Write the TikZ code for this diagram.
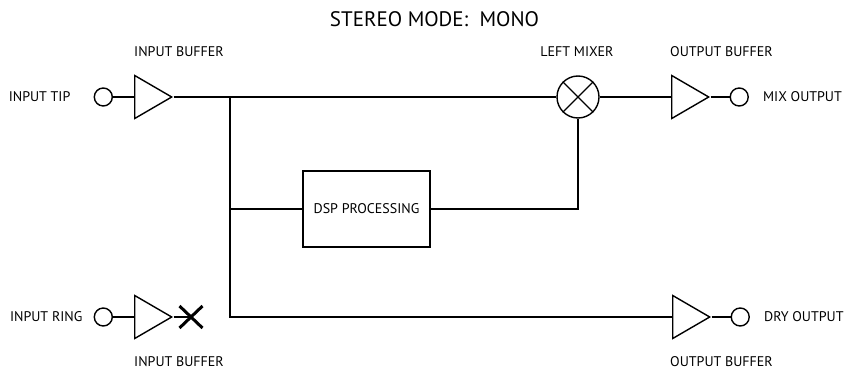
\documentclass[tikz,border=0pt]{standalone}
\usepackage{fontspec}
\setmainfont{PT Sans}
\usepackage{tikz}
\usetikzlibrary{arrows.meta,positioning,shapes.geometric,shapes.misc,calc}
\tikzset{
  wire/.style={line width=1.4pt, draw=black},
  buf/.style={isosceles triangle, isosceles triangle stretches, shape border rotate=0, draw, line width=1.4pt,
              minimum width=43pt, minimum height=37pt, inner sep=0pt, anchor=west},
  jack/.style={circle, draw, line width=1.4pt, minimum size=18pt, inner sep=0pt},
  mixer/.style={circle, draw, line width=1.4pt, minimum size=42pt, inner sep=0pt},
  procbox/.style={rectangle, draw, line width=1.4pt, minimum width=127pt, minimum height=76pt, inner sep=0pt,
                  font=\fontsize{14}{16}\selectfont},
  nocon/.style={cross out, draw, line width=3pt, minimum width=20pt, minimum height=19pt, inner sep=0pt},
  lbl/.style={font=\fontsize{14}{16}\selectfont, inner sep=0pt},
  ttl/.style={font=\fontsize{21}{23}\selectfont, inner sep=0pt}
}
\begin{document}
\begin{tikzpicture}[x=1pt, y=1pt]
 \useasboundingbox (0,0) rectangle (847,373);
 \node[ttl] (title) at (434.5,354) {STEREO MODE:\ \ MONO};
 % top path
 \node[buf] (bufin) at (134,276) {};
 \node[jack, left=21pt of bufin] (jtip) {};
 \node[lbl, left=23pt of jtip] (ltip) {INPUT TIP};
 \node[mixer] (mix) at (578,276) {};
 \draw[wire] (mix.north west) -- (mix.south east) (mix.north east) -- (mix.south west);
 \node[buf] (bufmix) at (671,276) {};
 \node[jack, right=19pt of bufmix.apex] (jmix) {};
 \node[lbl, right=14pt of jmix] (lmix) {MIX OUTPUT};
 % bottom path
 \node[buf] (bufring) at (134,56) {};
 \node[jack, left=21pt of bufring] (jring) {};
 \node[lbl, left=11pt of jring] (lring) {INPUT RING};
 \node[nocon] (nc) at (191,56) {};
 \node[buf] (bufdry) at (672,56) {};
 \node[jack, right=19pt of bufdry.apex] (jdry) {};
 \node[lbl, right=14pt of jdry] (ldry) {DRY OUTPUT};
 \node[procbox] (dsp) at (366.5,164) {DSP PROCESSING};
 % labels
 \node[lbl, anchor=west] (lbufin) at (134,321) {INPUT BUFFER};
 \node[lbl] (lmixer) at (577,321) {LEFT MIXER};
 \node[lbl, anchor=west] (lbufmix) at (670,321) {OUTPUT BUFFER};
 \node[lbl, anchor=west] (lbufring) at (134,11) {INPUT BUFFER};
 \node[lbl, anchor=west] (lbufdry) at (670,11) {OUTPUT BUFFER};
 % wiring
 \coordinate (tap) at (230,276);
 \coordinate (tapdry) at (230,56);
 \draw[wire] (jtip) -- (bufin);
 \draw[wire] (bufin.apex) -- (mix);
 \draw[wire] (mix) -- (bufmix);
 \draw[wire] (bufmix.apex) -- (jmix);
 \draw[wire] (tap) -- (tapdry) -- (bufdry);
 \draw[wire] (tap |- dsp) -- (dsp);
 \draw[wire] (dsp) -| (mix);
 \draw[wire] (bufdry.apex) -- (jdry);
 \draw[wire] (jring) -- (bufring);
 \draw[wire] (bufring.apex) -- (nc.center);
\end{tikzpicture}
\end{document}
